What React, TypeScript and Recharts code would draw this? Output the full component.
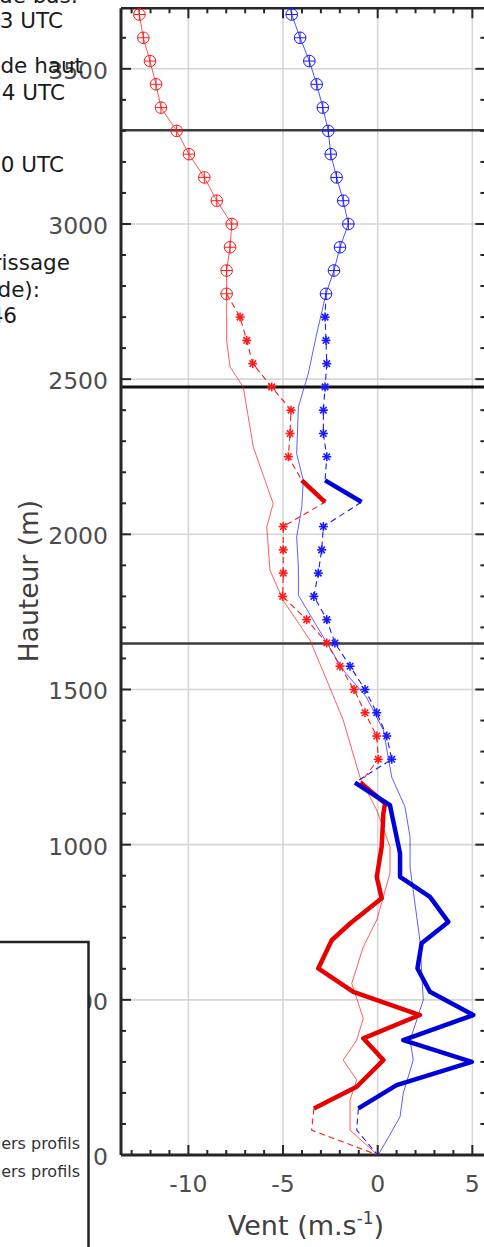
import React from 'react';
import { ScatterChart, Scatter, XAxis, YAxis, ReferenceLine } from 'recharts';

// ---------- axes ----------
const X_DOMAIN: [number, number] = [-13.56, 5.69];
const Y_DOMAIN: [number, number] = [0, 3695];
const X_TICKS = [-13, -12, -11, -10, -9, -8, -7, -6, -5, -4, -3, -2, -1, 0, 1, 2, 3, 4, 5];
const X_LABELED = [-10, -5, 0, 5];
const Y_TICKS = [0, 100, 200, 300, 400, 500, 600, 700, 800, 900, 1000, 1100, 1200, 1300, 1400, 1500, 1600, 1700, 1800, 1900, 2000, 2100, 2200, 2300, 2400, 2500, 2600, 2700, 2800, 2900, 3000, 3100, 3200, 3300, 3400, 3500, 3600];
const Y_LABELED = [0, 500, 1000, 1500, 2000, 2500, 3000, 3500];
const SEPARATORS = [3302, 2475, 1648];

// ---------- red profiles ----------
const redCircleH = [3750, 3675, 3600, 3525, 3450, 3375, 3300, 3225, 3150, 3075, 3000, 2925, 2850, 2775];
const redCircleV = [-12.85, -12.59, -12.38, -12.03, -11.71, -11.45, -10.62, -9.97, -9.16, -8.5, -7.71, -7.8, -7.98, -7.98];

const redThinH = [2775, 2625, 2540, 2474, 2281, 2099, 2024, 1884, 1787, 1659, 1530, 1401, 1218, 1111, 993, 907, 757, 671, 553, 440, 370, 306, 242, 177, 80, 0];
const redThinV = [-7.98, -7.98, -7.8, -7.1, -6.57, -5.52, -5.86, -5.69, -4.99, -3.58, -2.69, -1.82, -0.94, -0.05, 0.65, 0.65, -0.05, -0.76, -1.37, -0.76, -1.11, -1.82, -1.11, -1.46, -1.46, 0];

const dashH = [2775, 2700, 2625, 2550, 2475, 2400, 2325, 2250, 2174, 2104, 2025, 1950, 1875, 1800, 1725, 1650, 1575, 1500, 1425, 1350, 1275, 1200];
const dashStar = [0, 1, 1, 1, 1, 1, 1, 1, 0, 0, 1, 1, 1, 1, 1, 1, 1, 1, 1, 1, 1, 0];
const redDashV = [-7.98, -7.27, -6.92, -6.6, -5.6, -4.58, -4.63, -4.72, -4.01, -2.78, -4.99, -4.99, -4.99, -5.02, -3.75, -2.69, -1.99, -1.25, -0.67, -0.05, 0.03, -0.9];

const thickTopH = [2174, 2104];
const redThickTopV = [-4.01, -2.78];

const redThickH = [1200, 1133, 1101, 993, 896, 827, 746, 692, 601, 526, 451, 376, 306, 220, 150];
const redThickV = [-0.9, 0.39, 0.3, 0.21, -0.05, 0.21, -1.46, -2.43, -3.14, -1.29, 2.23, -0.76, 0.3, -1.11, -3.37];

const bottomDashH = [150, 80, 0];
const redBottomV = [-3.37, -3.49, 0];

// ---------- blue profiles ----------
const blueCircleH = redCircleH;
const blueCircleV = [-4.9, -4.54, -4.1, -3.61, -3.22, -2.9, -2.61, -2.48, -2.17, -1.82, -1.55, -1.99, -2.31, -2.73];

const blueThinH = [2775, 2647, 2517, 2464, 2410, 2260, 2174, 2088, 1991, 1895, 1804, 1669, 1562, 1476, 1369, 1218, 1122, 1025, 928, 692, 499, 370, 306, 199, 123, 0];
const blueThinV = [-2.73, -3.22, -3.67, -3.93, -4.19, -4.28, -3.93, -4.01, -4.28, -4.19, -4.19, -2.87, -1.82, -0.6, 0.3, 0.74, 1.44, 1.71, 1.71, 2.23, 2.41, 1.71, 1.88, 1.35, 1.18, 0.03];

const blueDashV = [-2.73, -2.78, -2.73, -2.69, -2.78, -2.87, -2.87, -2.69, -2.78, -0.85, -2.87, -2.96, -3.14, -3.37, -2.69, -2.26, -1.46, -0.67, -0.05, 0.48, 0.74, -1.2];

const blueThickTopV = [-2.78, -0.85];

const blueThickH = [1200, 1127, 1100, 972, 896, 832, 751, 682, 601, 526, 451, 370, 300, 225, 150];
const blueThickV = [-1.2, 0.65, 0.74, 1.18, 1.18, 2.76, 3.73, 2.32, 2.1, 2.76, 5.05, 1.35, 4.97, 1.0, -1.02];

const blueBottomV = [-1.02, -1.11, 0];

// ---------- helpers ----------
const pts = (h: number[], v: number[], star?: number[]) =>
  h.map((y, i) => ({ y, x: v[i], star: star ? star[i] : 0 }));

const RED = '#ff1a1a';
const BLUE = '#1a1aff';
const RED_THICK = '#e80000';
const BLUE_THICK = '#0000d8';
const AXIS = '#262626';
const TICK_TEXT = '#4d4d4d';
const FONT = '"DejaVu Sans", sans-serif';

const none = () => <g />;

const circleShape = (color: string) => (p: any) => {
  const { cx, cy } = p;
  if (cx == null || cy == null) return <g />;
  return (
    <g stroke={color} strokeWidth={1} fill="none">
      <circle cx={cx} cy={cy} r={5.8} />
      <line x1={cx - 5.8} x2={cx + 5.8} y1={cy} y2={cy} />
      <line x1={cx} x2={cx} y1={cy - 5.8} y2={cy + 5.8} />
    </g>
  );
};

const starShape = (color: string) => (p: any) => {
  const { cx, cy, payload } = p;
  if (cx == null || cy == null || !payload || !payload.star) return <g />;
  const r = 4.5;
  const d = r * 0.72;
  return (
    <g stroke={color} strokeWidth={1.6} fill="none">
      <line x1={cx - r} x2={cx + r} y1={cy} y2={cy} />
      <line x1={cx} x2={cx} y1={cy - r} y2={cy + r} />
      <line x1={cx - d} x2={cx + d} y1={cy - d} y2={cy + d} />
      <line x1={cx - d} x2={cx + d} y1={cy + d} y2={cy - d} />
    </g>
  );
};

const BottomTick = (p: any) => {
  const v = p.payload.value;
  const major = X_LABELED.includes(v);
  return (
    <g>
      <line x1={p.x} x2={p.x} y1={p.y} y2={p.y - (major ? 10 : 5)} stroke={AXIS} strokeWidth={2} />
      {major && (
        <text x={p.x} y={p.y + 37} textAnchor="middle" fontFamily={FONT} fontSize={23.5} fill={TICK_TEXT}>
          {v}
        </text>
      )}
    </g>
  );
};

const TopTick = (p: any) => {
  const v = p.payload.value;
  const major = X_LABELED.includes(v);
  return <line x1={p.x} x2={p.x} y1={p.y} y2={p.y + (major ? 10 : 5)} stroke={AXIS} strokeWidth={2} />;
};

const LeftTick = (p: any) => {
  const v = p.payload.value;
  const major = Y_LABELED.includes(v);
  return (
    <g>
      <line x1={p.x} x2={p.x + (major ? 10 : 5)} y1={p.y} y2={p.y} stroke={AXIS} strokeWidth={2} />
      {major && (
        <text x={p.x - 13} y={p.y + 10} textAnchor="end" fontFamily={FONT} fontSize={23.5} fill={TICK_TEXT}>
          {v}
        </text>
      )}
    </g>
  );
};

const RightTick = (p: any) => {
  const v = p.payload.value;
  const major = Y_LABELED.includes(v);
  return <line x1={p.x} x2={p.x - (major ? 10 : 5)} y1={p.y} y2={p.y} stroke={AXIS} strokeWidth={2} />;
};

const legendLines = [
  { t: 'Ballon de bas:', x: 78, y: 3 },
  { t: '14h03 UTC', x: 63, y: 28 },
  { t: 'Ballon de haut', x: 83, y: 73 },
  { t: '14h24 UTC', x: 65, y: 100 },
  { t: 'Radiosondage 12h00 UTC', x: 64, y: 172 },
  { t: 'Atterrissage', x: 70, y: 270 },
  { t: '(altitude):', x: 40, y: 297 },
  { t: '14h46', x: 17, y: 323 },
];

export default function App() {
  return (
    <div style={{ position: 'absolute', left: 0, top: 0, width: 484, height: 1247, overflow: 'hidden', background: '#fff' }}>
      <div style={{ position: 'absolute', left: 0, top: 0 }}>
        <ScatterChart width={500} height={1247} margin={{ top: 7.3, right: 13.6, bottom: 0, left: 0 }}>
          <XAxis
            xAxisId={0}
            type="number"
            dataKey="x"
            domain={X_DOMAIN}
            allowDataOverflow
            ticks={X_TICKS}
            interval={0}
            orientation="bottom"
            height={92}
            tickSize={0}
            tickMargin={0}
            tickLine={false}
            tick={BottomTick}
            axisLine={{ stroke: AXIS, strokeWidth: 3 }}
          />
          <XAxis
            xAxisId="top"
            type="number"
            dataKey="x"
            domain={X_DOMAIN}
            allowDataOverflow
            ticks={X_TICKS}
            interval={0}
            orientation="top"
            height={1}
            tickSize={0}
            tickMargin={0}
            tickLine={false}
            tick={TopTick}
            axisLine={{ stroke: AXIS, strokeWidth: 2.5 }}
          />
          <YAxis
            yAxisId={0}
            type="number"
            dataKey="y"
            domain={Y_DOMAIN}
            allowDataOverflow
            ticks={Y_TICKS}
            interval={0}
            orientation="left"
            width={121}
            tickSize={0}
            tickMargin={0}
            tickLine={false}
            tick={LeftTick}
            axisLine={{ stroke: AXIS, strokeWidth: 3 }}
          />
          <YAxis
            yAxisId="right"
            type="number"
            dataKey="y"
            domain={Y_DOMAIN}
            allowDataOverflow
            ticks={Y_TICKS}
            interval={0}
            orientation="right"
            width={1}
            tickSize={0}
            tickMargin={0}
            tickLine={false}
            tick={RightTick}
            axisLine={{ stroke: AXIS, strokeWidth: 2.5 }}
          />

          {X_LABELED.map((v) => (
            <ReferenceLine key={'gx' + v} x={v} stroke="#d6d6d6" strokeWidth={1.6} />
          ))}
          {Y_LABELED.filter((v) => v > 0).map((v) => (
            <ReferenceLine key={'gy' + v} y={v} stroke="#d6d6d6" strokeWidth={1.6} />
          ))}

          {/* thin solid profiles */}
          <Scatter data={pts(redThinH, redThinV)} fill={RED} line={{ stroke: RED, strokeWidth: 1, strokeOpacity: 0.7 }} shape={none} isAnimationActive={false} />
          <Scatter data={pts(blueThinH, blueThinV)} fill={BLUE} line={{ stroke: BLUE, strokeWidth: 1, strokeOpacity: 0.7 }} shape={none} isAnimationActive={false} />

          {/* circles profiles */}
          <Scatter data={pts(redCircleH, redCircleV)} fill={RED} line={{ stroke: RED, strokeWidth: 1, strokeOpacity: 0.75 }} shape={circleShape(RED)} isAnimationActive={false} />
          <Scatter data={pts(blueCircleH, blueCircleV)} fill={BLUE} line={{ stroke: BLUE, strokeWidth: 1, strokeOpacity: 0.75 }} shape={circleShape(BLUE)} isAnimationActive={false} />

          {/* dashed star profiles */}
          <Scatter data={pts(dashH, redDashV, dashStar)} fill={RED} line={{ stroke: RED, strokeWidth: 1.1, strokeDasharray: '6 4' }} shape={starShape(RED)} isAnimationActive={false} />
          <Scatter data={pts(dashH, blueDashV, dashStar)} fill={BLUE} line={{ stroke: BLUE, strokeWidth: 1.1, strokeDasharray: '6 4' }} shape={starShape(BLUE)} isAnimationActive={false} />
          <Scatter data={pts(bottomDashH, redBottomV)} fill={RED} line={{ stroke: RED, strokeWidth: 1.1, strokeDasharray: '6 4' }} shape={none} isAnimationActive={false} />
          <Scatter data={pts(bottomDashH, blueBottomV)} fill={BLUE} line={{ stroke: BLUE, strokeWidth: 1.1, strokeDasharray: '6 4' }} shape={none} isAnimationActive={false} />

          {/* thick profiles */}
          <Scatter data={pts(thickTopH, redThickTopV)} fill={RED_THICK} line={{ stroke: RED_THICK, strokeWidth: 4.5, strokeLinejoin: 'round' }} shape={none} isAnimationActive={false} />
          <Scatter data={pts(thickTopH, blueThickTopV)} fill={BLUE_THICK} line={{ stroke: BLUE_THICK, strokeWidth: 4.5, strokeLinejoin: 'round' }} shape={none} isAnimationActive={false} />
          <Scatter data={pts(redThickH, redThickV)} fill={RED_THICK} line={{ stroke: RED_THICK, strokeWidth: 4.5, strokeLinejoin: 'round' }} shape={none} isAnimationActive={false} />
          <Scatter data={pts(blueThickH, blueThickV)} fill={BLUE_THICK} line={{ stroke: BLUE_THICK, strokeWidth: 4.5, strokeLinejoin: 'round' }} shape={none} isAnimationActive={false} />

          {SEPARATORS.map((h, i) => (
            <ReferenceLine key={'sep' + h} y={h} stroke={i === 1 ? '#111' : '#3c3c3c'} strokeWidth={i === 1 ? 3 : 2.5} />
          ))}
        </ScatterChart>
      </div>

      <svg width={484} height={1247} style={{ position: 'absolute', left: 0, top: 0, pointerEvents: 'none' }}>
        {legendLines.map((l) => (
          <text key={l.t} x={l.x} y={l.y} textAnchor="end" fontFamily={FONT} fontSize={21.5} fill="#1a1a1a">
            {l.t}
          </text>
        ))}
        <text
          transform="translate(28, 581) rotate(-90)"
          textAnchor="middle"
          dominantBaseline="central"
          fontFamily={FONT}
          fontSize={26.5}
          fill="#404040"
        >
          Hauteur (m)
        </text>
        <text x={306} y={1235} textAnchor="middle" fontFamily={FONT} fontSize={27} fill="#404040">
          <tspan>Vent (m.s</tspan>
          <tspan dy={-11} fontSize={17}>-1</tspan>
          <tspan dy={11}>)</tspan>
        </text>
        <rect x={-10} y={942} width={98.5} height={330} fill="#fff" stroke="#222" strokeWidth={2.5} />
        <text x={80} y={1149} textAnchor="end" fontFamily={FONT} fontSize={16} fill="#333">
          Premiers profils
        </text>
        <text x={80} y={1177} textAnchor="end" fontFamily={FONT} fontSize={16} fill="#333">
          Derniers profils
        </text>
      </svg>
    </div>
  );
}
